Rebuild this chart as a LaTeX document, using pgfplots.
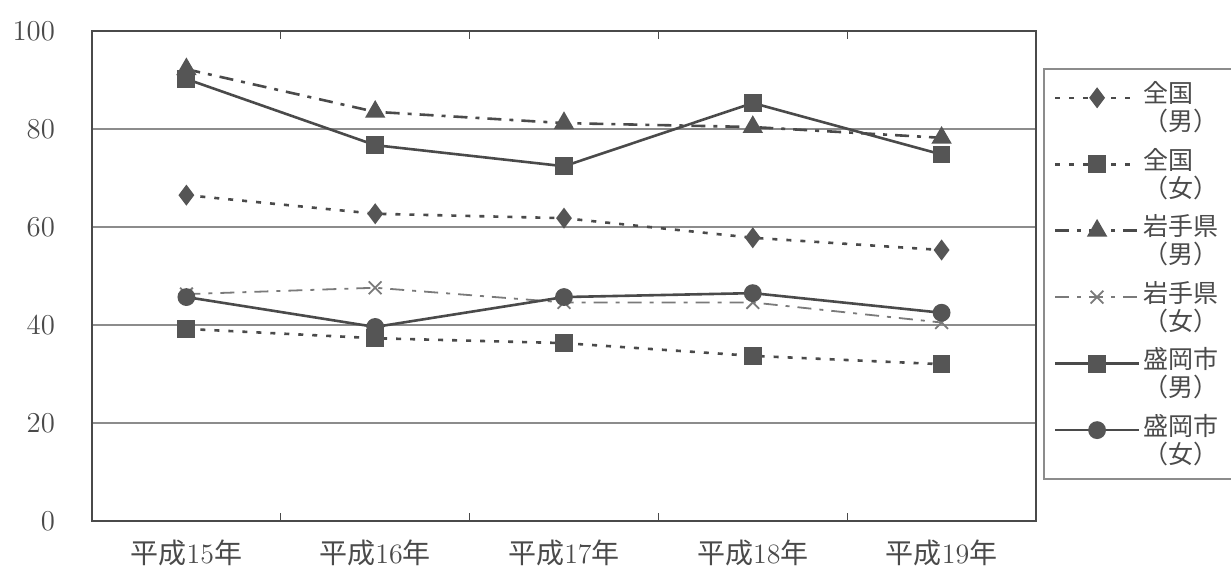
\documentclass[border=0pt]{standalone}
\usepackage{pgfplots}
\pgfplotsset{compat=1.18}
\usepackage{fontspec}
\newfontfamily\jp{Noto Sans CJK JP}

\definecolor{ink}{HTML}{4A4A4A}
\definecolor{mk}{HTML}{555555}
\definecolor{lightink}{HTML}{7A7A7A}
\definecolor{gridc}{HTML}{8C8C8C}

\newcommand\nendo[1]{{\jp 平成}#1{\jp 年}}

\begin{document}
\begin{tikzpicture}
\begin{axis}[
  at={(0,0)}, anchor=south west,
  scale only axis,
  width=472pt, height=245pt,
  xmin=-0.5, xmax=4.5,
  ymin=0, ymax=100,
  xtick={0,1,2,3,4},
  xticklabels={\nendo{15},\nendo{16},\nendo{17},\nendo{18},\nendo{19}},
  minor xtick={0.5,1.5,2.5,3.5},
  major tick length=0pt,
  minor tick length=4pt,
  tick style={ink, line width=0.6pt},
  ytick={0,20,40,60,80,100},
  ymajorgrids,
  grid style={gridc, line width=0.6pt},
  axis line style={ink, line width=0.9pt},
  xticklabel style={font=\fontsize{14}{14}\selectfont, yshift=-6pt, text=ink},
  yticklabel style={font=\fontsize{15.5}{15.5}\selectfont, xshift=-15pt, text=ink},
  legend style={at={(1,0.9245)}, anchor=north west, xshift=3.5pt,
    draw=gridc, line width=0.8pt,
    font=\jp\fontsize{12.5}{14}\selectfont, text=ink,
    nodes={align=left, inner sep=1.5pt},
    row sep=4.2pt, inner xsep=5pt, inner ysep=5pt},
  legend cell align=left,
  legend image code/.code={%
    \draw[mark repeat=2, mark phase=2]
      plot coordinates {(0pt,5pt) (21pt,5pt) (42pt,5pt)};},
]
% 全国（男）
\addplot[ink, line width=1.3pt, dash pattern=on 2.5pt off 4.5pt,
  mark=diamond*, mark size=4.2pt, mark options={solid, fill=mk, draw=mk}]
  coordinates {(0,66.5) (1,62.7) (2,61.8) (3,57.8) (4,55.3)};
\addlegendentry{全国\\（男）}
% 全国（女）
\addplot[ink, line width=1.3pt, dash pattern=on 2.5pt off 4.5pt,
  mark=square*, mark size=3.8pt, mark options={solid, fill=mk, draw=mk}]
  coordinates {(0,39.2) (1,37.3) (2,36.3) (3,33.7) (4,32.0)};
\addlegendentry{全国\\（女）}
% 岩手県（男）
\addplot[ink, line width=1.3pt, dash pattern=on 7pt off 4pt on 2pt off 4pt,
  mark=triangle*, mark size=4.6pt, mark options={solid, fill=mk, draw=mk}]
  coordinates {(0,92.2) (1,83.5) (2,81.2) (3,80.4) (4,78.2)};
\addlegendentry{岩手県\\（男）}
% 岩手県（女）
\addplot[lightink, line width=0.9pt, dash pattern=on 7pt off 4pt on 2pt off 4pt,
  mark=x, mark size=4.5pt, mark options={solid, draw=lightink, line width=0.9pt}]
  coordinates {(0,46.3) (1,47.6) (2,44.6) (3,44.6) (4,40.5)};
\addlegendentry{岩手県\\（女）}
% 盛岡市（男）
\addplot[ink, line width=1.3pt,
  mark=square*, mark size=3.8pt, mark options={solid, fill=mk, draw=mk}]
  coordinates {(0,90.2) (1,76.7) (2,72.4) (3,85.3) (4,74.8)};
\addlegendentry{盛岡市\\（男）}
% 盛岡市（女）
\addplot[ink, line width=1.3pt,
  mark=*, mark size=3.8pt, mark options={solid, fill=mk, draw=mk}]
  coordinates {(0,45.7) (1,39.6) (2,45.7) (3,46.5) (4,42.5)};
\addlegendentry{盛岡市\\（女）}
\end{axis}
% page frame: axis box with its margins for labels and legend
\pgfresetboundingbox
\path (-46pt,-25pt) rectangle (569.5pt,260.5pt);
\end{tikzpicture}
\end{document}
